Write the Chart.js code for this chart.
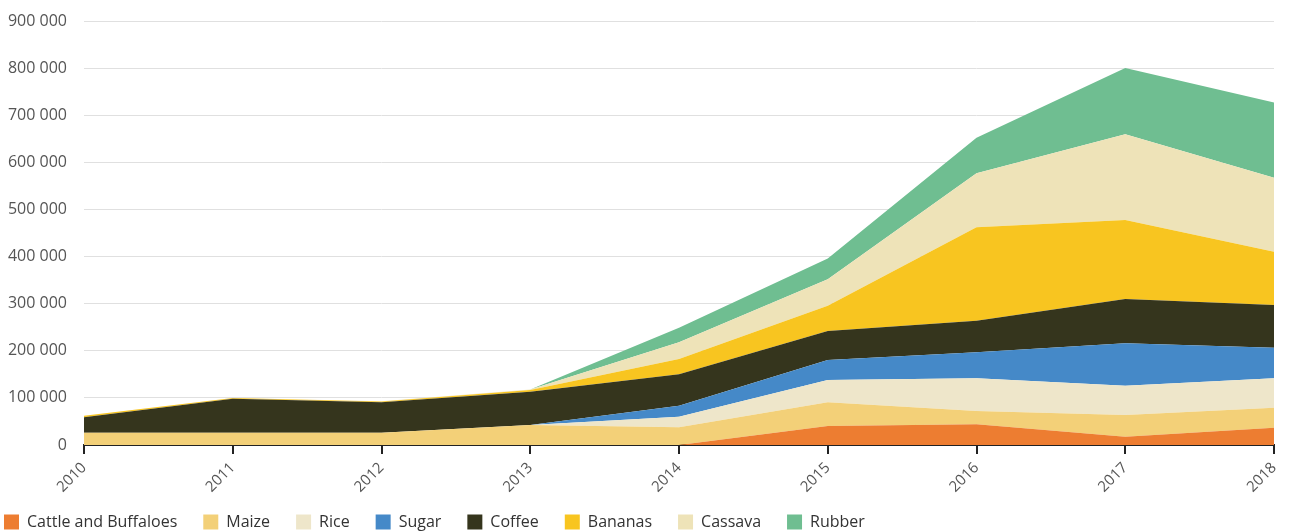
<!DOCTYPE html>
<html>
<head>
<meta charset="utf-8">
<script src="https://cdn.jsdelivr.net/npm/chart.js@4"></script>
<style>
html,body{margin:0;padding:0;background:#fff;}
#wrap{width:1289px;height:531px;}
</style>
</head>
<body>
<div id="wrap"><canvas id="c" width="1289" height="531"></canvas></div>
<script>
const years = ['2010','2011','2012','2013','2014','2015','2016','2017','2018'];
const seriesNames = ['Cattle and Buffaloes','Maize','Rice','Sugar','Coffee','Bananas','Cassava','Rubber'];
const cattle  = [0, 0, 0, 0, 0, 40300, 44000, 17700, 36800];
const maize   = [26000, 26000, 26000, 42500, 37600, 50300, 28000, 46000, 42400];
const rice    = [0, 0, 0, 0, 22400, 47400, 69600, 62300, 62400];
const sugar   = [0, 0, 0, 0, 23500, 42500, 55200, 90000, 65000];
const coffee  = [33000, 72000, 64700, 70500, 66500, 61500, 67200, 94000, 90400];
const bananas = [3000, 2000, 1500, 4000, 32600, 53700, 198000, 167700, 113400];
const cassava = [0, 0, 500, 1000, 35400, 56300, 115000, 181900, 157100];
const rubber  = [0, 0, 0, 0, 31000, 44000, 75000, 140400, 159300];
const yTicks = [0, 100000, 200000, 300000, 400000, 500000, 600000, 700000, 800000, 900000];

const seriesData = [cattle, maize, rice, sugar, coffee, bananas, cassava, rubber];
const colors = ['#ED7D31','#F3D078','#EEE6CA','#4589C8','#35351D','#F8C520','#EEE3B8','#6FBE91'];

const datasets = seriesNames.map((name, i) => ({
  label: name,
  data: seriesData[i],
  backgroundColor: colors[i],
  borderColor: colors[i],
  borderWidth: 0,
  pointRadius: 0,
  pointHoverRadius: 0,
  tension: 0,
  fill: i === 0 ? 'origin' : '-1'
}));

const fmt = v => String(v).replace(/\B(?=(\d{3})+(?!\d))/g, ' ');

const legendShift = {
  id: 'legendShift',
  afterLayout(chart) {
    const lg = chart.legend;
    if (lg) { lg.left -= 22; lg.right -= 22; lg.top -= 12; lg.bottom -= 12; }
  }
};

new Chart(document.getElementById('c'), {
  type: 'line',
  data: { labels: years, datasets },
  plugins: [legendShift],
  options: {
    responsive: false,
    animation: false,
    layout: { padding: { left: 0, right: 15, top: 21, bottom: -21 } },
    plugins: {
      tooltip: { enabled: false },
      legend: {
        position: 'bottom',
        align: 'start',
        labels: {
          boxWidth: 15,
          boxHeight: 15,
          padding: 26,
          color: '#333',
          font: { family: '"Open Sans"', size: 16 }
        }
      }
    },
    scales: {
      x: {
        type: 'category',
        offset: false,
        grid: { drawOnChartArea: false, drawTicks: true, tickLength: 9, color: '#222', lineWidth: 2 },
        border: { display: true, color: '#222', width: 2 },
        ticks: {
          color: '#555',
          minRotation: 45,
          maxRotation: 45,
          padding: 5,
          font: { family: '"Open Sans"', size: 15 }
        },
        afterFit(scale) { scale.height = 55; scale.paddingRight = 0; scale.paddingLeft = 0; }
      },
      y: {
        stacked: true,
        min: 0,
        max: 900000,
        afterBuildTicks(scale) { scale.ticks = yTicks.map(v => ({ value: v })); },
        grid: { drawTicks: true, tickLength: 17, tickColor: 'rgba(0,0,0,0)', color: '#e0e0e0', lineWidth: 1 },
        border: { display: false },
        ticks: {
          color: '#555',
          padding: 0,
          font: { family: '"Open Sans"', size: 16 },
          callback: v => fmt(v)
        },
        afterFit(scale) { scale.width = 84; }
      }
    }
  }
});
</script>
</body>
</html>
